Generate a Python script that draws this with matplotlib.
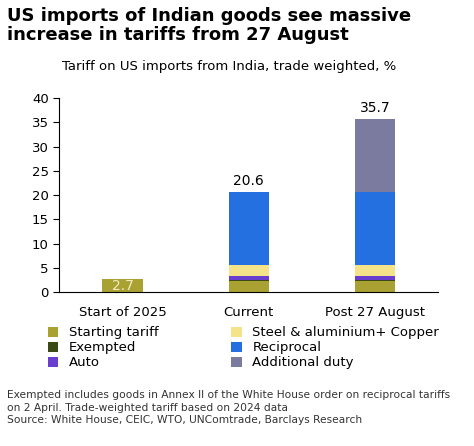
import matplotlib
matplotlib.use("Agg")
import matplotlib.pyplot as plt
import numpy as np

categories = ["Start of 2025", "Current", "Post 27 August"]
series_names = ["Starting tariff", "Exempted", "Auto", "Steel & aluminium+ Copper", "Reciprocal", "Additional duty"]
starting = [2.7, 2.3, 2.3]
exempted = [0.0, 0.1, 0.1]
auto = [0.0, 0.9, 0.9]
steel = [0.0, 2.3, 2.3]
reciprocal = [0.0, 15.0, 15.0]
additional = [0.0, 0.0, 15.1]
totals = [2.7, 20.6, 35.7]
colors = ["#A9A233", "#3B4A14", "#6A3FD0", "#F5E38A", "#2470E0", "#7B7BA0"]

fig = plt.figure(figsize=(4.74, 4.46), dpi=100)
ax = fig.add_axes([0.125, 0.345, 0.80, 0.435])
x = np.arange(len(categories))
bottom = np.zeros(3)
for name, vals, c in zip(series_names, [starting, exempted, auto, steel, reciprocal, additional], colors):
    ax.bar(x, vals, 0.32, bottom=bottom, color=c, label=name)
    bottom += np.array(vals)
ax.text(0, 1.35, "2.7", ha="center", va="center", color="#F0ECC0", fontsize=10)
for i in (1, 2):
    ax.text(i, totals[i] + 0.8, f"{totals[i]}", ha="center", va="bottom", fontsize=10)
ax.set_ylim(0, 40)
ax.set_yticks(range(0, 41, 5))
ax.set_xlim(-0.5, 2.5)
ax.set_xticks(x)
ax.set_xticklabels(categories, fontsize=9.5)
ax.tick_params(axis="x", length=0, pad=10)
ax.tick_params(axis="y", labelsize=9.5, length=4)
for s in ["top", "right"]:
    ax.spines[s].set_visible(False)

fig.text(0.015, 0.985, "US imports of Indian goods see massive\nincrease in tariffs from 27 August",
         fontsize=13, fontweight="bold", va="top", linespacing=1.1)
fig.text(0.13, 0.865, "Tariff on US imports from India, trade weighted, %", fontsize=9.5, va="top")
handles, labels = ax.get_legend_handles_labels()
fig.legend(handles, labels, loc="upper left", bbox_to_anchor=(0.09, 0.28), ncol=2,
           frameon=False, fontsize=9.5, handlelength=0.8, handleheight=0.8,
           columnspacing=5.5, labelspacing=0.15, borderaxespad=0)
fig.text(0.015, 0.125, "Exempted includes goods in Annex II of the White House order on reciprocal tariffs\non 2 April. Trade-weighted tariff based on 2024 data\nSource: White House, CEIC, WTO, UNComtrade, Barclays Research",
         fontsize=7.7, va="top", color="#333333", linespacing=1.3)
fig.savefig("out.png", dpi=100)
